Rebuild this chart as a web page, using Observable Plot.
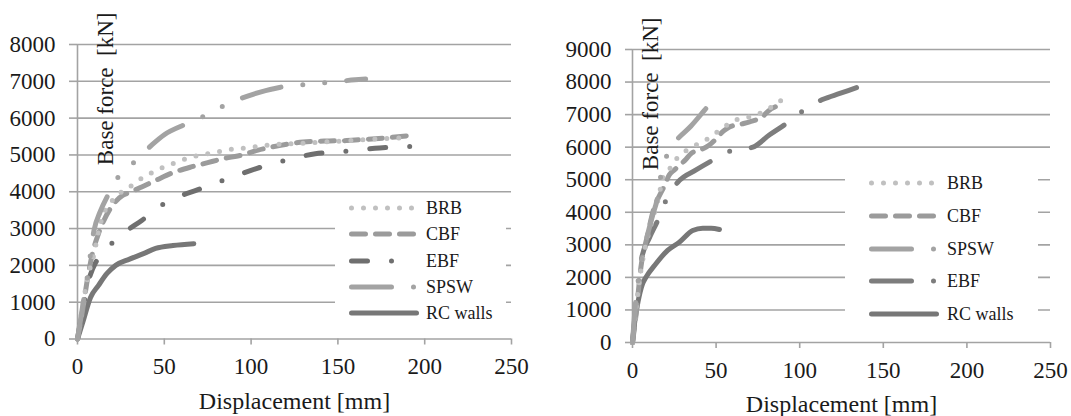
<!DOCTYPE html>
<html><head><meta charset="utf-8">
<script src="https://cdn.jsdelivr.net/npm/d3@7"></script>
<script src="https://cdn.jsdelivr.net/npm/@observablehq/plot@0.6"></script>
<style>
body{margin:0;background:#fff;}
#wrap{position:relative;width:1071px;height:416px;overflow:hidden;font-family:"Liberation Serif","Times New Roman",serif;color:#1a1a1a;background:#fff;}
#wrap svg text{font-family:"Liberation Serif","Times New Roman",serif !important;}
.panel{position:absolute;top:0;}
.legend{position:absolute;background:#fff;}
.row{position:absolute;height:20px;line-height:20px;white-space:nowrap;font-size:18px;}
.row svg{position:absolute;top:5px;}
.row span{position:absolute;top:0;}
</style></head><body><div id="wrap"></div>
<script>
// ---------- data ----------
const xTicks = [0, 50, 100, 150, 200, 250];
const yTicksLeft = [0, 1000, 2000, 3000, 4000, 5000, 6000, 7000, 8000];
const yTicksRight = [0, 1000, 2000, 3000, 4000, 5000, 6000, 7000, 8000, 9000];

const namesLeft = ["BRB", "CBF", "EBF", "SPSW", "RC walls"];
const namesRight = ["BRB", "CBF", "SPSW", "EBF", "RC walls"];

// left panel: [displacement mm, base force kN]
const leftBRB = [[0,0],[3,900],[6,1700],[9.5,2300],[12,2900],[15,3400],[19,3700],[24,3950],[29,4090],[34,4270],[40,4450],[46,4590],[52,4720],[58,4810],[64,4930],[71,4990],[78,5060],[84,5110],[91,5170],[98,5190],[105,5240],[110,5270],[117,5290],[130,5320],[145,5360],[160,5400],[175,5440],[191,5470]];
const leftCBF = [[0,0],[3,800],[6,1700],[8.5,2300],[12,2850],[15,3200],[19,3550],[26,3900],[30,3980],[37,4130],[46,4330],[54,4500],[66,4680],[75,4790],[84,4900],[94,4990],[104,5130],[117,5260],[130,5350],[145,5380],[155,5390],[165,5420],[177,5460],[190,5520]];
const leftEBF = [[0,0],[3,800],[6.5,1600],[10.5,2080],[14,2300],[19,2560],[28,2930],[37,3220],[47,3590],[58,3860],[69,4050],[80,4240],[92,4450],[103,4630],[115,4790],[127,4940],[137,5030],[150,5080],[162,5140],[174,5190],[186,5220],[204,5250]];
const leftSPSW = [[0,0],[3,900],[6,1800],[9.5,2950],[13,3450],[18,3950],[24,4440],[34,4860],[43,5280],[50,5550],[63,5850],[75,6100],[86,6380],[98,6600],[117,6840],[134,6920],[147,6980],[160,7040],[166,7060]];
const leftRC = [[0,0],[3,450],[7.5,1130],[12,1450],[17,1780],[22,2000],[30,2170],[38,2320],[45,2460],[55,2540],[67,2590]];

// right panel
const rightBRB = [[0,0],[2,1000],[5,2200],[8,3000],[12,3800],[16,4540],[18,5050],[21,5220],[24,5500],[29,5770],[35,5990],[41,6140],[47,6320],[52,6520],[58,6730],[64,6880],[70,6930],[77,7060],[83,7230],[89,7440]];
const rightCBF = [[0,0],[2,800],[5,2300],[9,3300],[13,4150],[16,4500],[19,4800],[22,5150],[25,5300],[32,5630],[35,5800],[44,6000],[47,6110],[55,6520],[58,6620],[66,6720],[70,6780],[78,6950],[81,7100],[90,7320]];
const rightSPSW = [[0,0],[2,1300],[5,2400],[8,3100],[12,3900],[15,4460],[17,5150],[21,5800],[26,6190],[35,6650],[43,7130],[51,7620]];
const rightEBF = [[0,0],[2,1100],[3.5,1800],[5.5,2600],[10,3200],[15,3740],[20,4360],[27,4920],[38,5300],[48,5600],[59,5890],[72,6000],[82,6380],[93,6760],[103,7160],[114,7470],[124,7650],[134,7830]];
const rightRC = [[0,0],[1.5,700],[3.5,1300],[6,1800],[8,2000],[14,2420],[21,2830],[28,3080],[36,3440],[42,3510],[47,3510],[52,3470]];

const xLabel = "Displacement [mm]";
const yLabel = "Base force\u00a0 [kN]";

// ---------- styles ----------
const GRID = "#a3a3a3";
const FONT = "'Liberation Serif','Times New Roman',serif";
const stylesLeft = {
  "BRB": {stroke: "#c0c0c0", dash: "0,12"},
  "CBF": {stroke: "#9b9b9b", dash: "14,10"},
  "EBF": {stroke: "#6f6f6f", dash: "16,24,0,24"},
  "SPSW": {stroke: "#a3a3a3", dash: "40,22,0,22,0,22"},
  "RC walls": {stroke: "#777777", dash: null}
};
const stylesRight = {
  "BRB": {stroke: "#c0c0c0", dash: "0,12"},
  "CBF": {stroke: "#9b9b9b", dash: "14,10"},
  "SPSW": {stroke: "#a3a3a3", dash: "40,22,0,22,0,22"},
  "EBF": {stroke: "#7d7d7d", dash: "40,22,0,22"},
  "RC walls": {stroke: "#777777", dash: null}
};

function lineMark(data, st) {
  return Plot.line(data, {
    x: d => d[0], y: d => d[1], curve: "monotone-x",
    stroke: st.stroke, strokeWidth: 5, strokeLinecap: "round", strokeLinejoin: "round",
    strokeDasharray: st.dash || undefined
  });
}

function chart(cfg) {
  return Plot.plot({
    width: cfg.width, height: 416,
    marginLeft: cfg.ml, marginRight: cfg.mr, marginTop: cfg.mt, marginBottom: cfg.mb,
    x: {domain: [0, 250]},
    y: {domain: [0, cfg.yMax]},
    style: {fontFamily: FONT, fontSize: "23px", color: "#1a1a1a", background: "transparent", overflow: "visible"},
    marks: [
      Plot.gridY(cfg.yTicks, {stroke: GRID, strokeOpacity: 1, strokeWidth: 1.6}),
      Plot.axisY(cfg.yTicks, {tickSize: cfg.tickY, tickPadding: 14, tickFormat: d3.format("d"), label: null, stroke: GRID, strokeWidth: 1.6, fill: "#1a1a1a", fontSize: 23}),
      Plot.ruleX([0], {stroke: GRID, strokeWidth: 1.6}),
      Plot.axisX(xTicks, {tickSize: 6, tickPadding: 13, tickFormat: d3.format("d"), label: null, stroke: GRID, strokeWidth: 1.6, fill: "#1a1a1a", fontSize: 23}),
      ...cfg.series.map(([name, data]) => lineMark(data, cfg.styles[name])),
      Plot.text([yLabel], {frameAnchor: "top-left", rotate: -90, textAnchor: "end", dx: cfg.tdx, dy: cfg.tdy, fontSize: 23, fill: "#1a1a1a"}),
      Plot.text([xLabel], {frameAnchor: "bottom", dy: cfg.xdy, fontSize: 24, fill: "#1a1a1a"})
    ]
  });
}

const wrap = document.getElementById("wrap");

const left = chart({
  width: 540, ml: 77, mr: 29, mt: 44, mb: 77.5, yMax: 8000, yTicks: yTicksLeft, tickY: 8,
  tdx: 19, tdy: -32, xdy: 70, styles: stylesLeft,
  series: [["RC walls", leftRC], ["EBF", leftEBF], ["CBF", leftCBF], ["BRB", leftBRB], ["SPSW", leftSPSW]]
});
const right = chart({
  width: 531, ml: 92, mr: 21, mt: 49, mb: 74, yMax: 9000, yTicks: yTicksRight, tickY: 7,
  tdx: 9, tdy: -32, xdy: 69, styles: stylesRight,
  series: [["RC walls", rightRC], ["EBF", rightEBF], ["CBF", rightCBF], ["BRB", rightBRB], ["SPSW", rightSPSW]]
});

const pl = document.createElement("div"); pl.className = "panel"; pl.style.left = "0px"; pl.appendChild(left); wrap.appendChild(pl);
const pr = document.createElement("div"); pr.className = "panel"; pr.style.left = "540px"; pr.appendChild(right); wrap.appendChild(pr);

function legend(names, styles, box) {
  const lg = d3.select(wrap).append("div").attr("class", "legend")
    .style("left", box.left + "px").style("top", box.top + "px")
    .style("width", box.w + "px").style("height", box.h + "px");
  names.forEach((name, i) => {
    const st = styles[name];
    const row = lg.append("div").attr("class", "row")
      .style("left", "0px").style("width", box.w + "px")
      .style("top", (box.y0 + i * box.step - 10) + "px");
    const svg = row.append("svg").attr("width", 74).attr("height", 10).style("left", (box.sx - 1) + "px");
    svg.append("line").attr("x1", 3.5).attr("x2", name === "RC walls" ? 68.5 : 66).attr("y1", 5).attr("y2", 5)
      .attr("stroke", st.stroke).attr("stroke-width", 5).attr("stroke-linecap", "round")
      .attr("stroke-dasharray", st.dash || null);
    row.append("span").style("left", box.tx + "px").text(name);
  });
}
legend(namesLeft, stylesLeft, {left: 335, top: 196, w: 171, h: 140, y0: 12, step: 26.3, sx: 14, tx: 91});
legend(namesRight, stylesRight, {left: 845, top: 150, w: 193, h: 185, y0: 33, step: 32.75, sx: 24, tx: 102});
</script></body></html>
